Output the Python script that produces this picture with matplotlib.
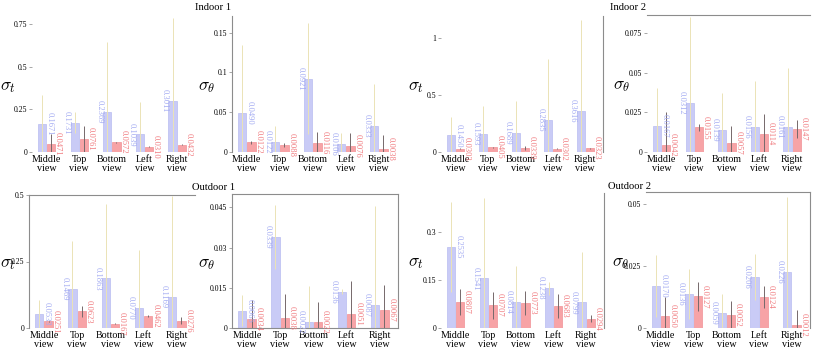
import numpy as np
import matplotlib
matplotlib.use("Agg")
import matplotlib.pyplot as plt
from matplotlib.ticker import FuncFormatter

plt.rcParams['font.family'] = ['Liberation Serif', 'DejaVu Serif']
plt.rcParams['mathtext.fontset'] = 'cm'

views = ['Middle\nview', 'Top\nview', 'Bottom\nview', 'Left\nview', 'Right\nview']

# Indoor 1
in1_t_blue = [0.1671, 0.1731, 0.2369, 0.1039, 0.3011]
in1_t_red = [0.0471, 0.0761, 0.0572, 0.0310, 0.0432]
in1_t_blue_err = [0.17, 0.06, 0.41, 0.19, 0.49]
in1_t_red_err = [0.058, 0.075, 0.004, 0.003, 0.004]
in1_th_blue = [0.0490, 0.0122, 0.0921, 0.0106, 0.0333]
in1_th_red = [0.0122, 0.0088, 0.0116, 0.0076, 0.0038]
in1_th_blue_err = [0.086, 0.021, 0.070, 0.013, 0.052]
in1_th_red_err = [0.002, 0.002, 0.013, 0.016, 0.017]

# Indoor 2
in2_t_blue = [0.1450, 0.1593, 0.1689, 0.2835, 0.3616]
in2_t_red = [0.0303, 0.0405, 0.0339, 0.0302, 0.0323]
in2_t_blue_err = [0.16, 0.24, 0.28, 0.53, 0.79]
in2_t_red_err = [0.003, 0.003, 0.02, 0.003, 0.005]
in2_th_blue = [0.0167, 0.0312, 0.0139, 0.0156, 0.0161]
in2_th_red = [0.0042, 0.0155, 0.0057, 0.0114, 0.0147]
in2_th_blue_err = [0.024, 0.054, 0.0235, 0.029, 0.037]
in2_th_red_err = [0.021, 0.002, 0.0107, 0.0123, 0.0058]

# Outdoor 1
out1_t_blue = [0.0533, 0.1469, 0.1863, 0.0770, 0.1169]
out1_t_red = [0.0251, 0.0623, 0.0167, 0.0462, 0.0276]
out1_t_blue_err = [0.052, 0.18, 0.28, 0.218, 0.38]
out1_t_red_err = [0.003, 0.02, 0.003, 0.003, 0.012]
out1_th_blue = [0.0065, 0.0339, 0.0022, 0.0136, 0.0087]
out1_th_red = [0.0034, 0.0038, 0.0022, 0.0051, 0.0067]
out1_th_blue_err = [0.0059, 0.012, 0.0133, 0.001, 0.037]
out1_th_red_err = [0.007, 0.0089, 0.0075, 0.0123, 0.0092]

# Outdoor 2
out2_t_blue = [0.2535, 0.1541, 0.0814, 0.1238, 0.0799]
out2_t_red = [0.0807, 0.0707, 0.0773, 0.0683, 0.0294]
out2_t_blue_err = [0.14, 0.25, 0.11, 0.02, 0.155]
out2_t_red_err = [0.04, 0.042, 0.037, 0.037, 0.01]
out2_th_blue = [0.0170, 0.0136, 0.0059, 0.0206, 0.0226]
out2_th_red = [0.0050, 0.0127, 0.0052, 0.0124, 0.0012]
out2_th_blue_err = [0.0125, 0.010, 0.008, 0.0093, 0.030]
out2_th_red_err = [0.0074, 0.0058, 0.0056, 0.0044, 0.006]

# panel: data, ylabel, ymax, ticks, visible spines, axes rect (px: left, top, right, bottom)
panels = [
    (in1_t_blue, in1_t_red, in1_t_blue_err, in1_t_red_err, r'$\sigma_t$', 0.8,
     [0, 0.25, 0.5, 0.75], [], (32, 16, 195, 152)),
    (in1_th_blue, in1_th_red, in1_th_blue_err, in1_th_red_err, r'$\sigma_\theta$', 0.171,
     [0, 0.05, 0.1, 0.15], ['left'], (232, 16, 397, 152)),
    (in2_t_blue, in2_t_red, in2_t_blue_err, in2_t_red_err, r'$\sigma_t$', 1.19,
     [0, 0.5, 1], ['right'], (441, 16, 603, 152)),
    (in2_th_blue, in2_th_red, in2_th_blue_err, in2_th_red_err, r'$\sigma_\theta$', 0.0865,
     [0, 0.025, 0.05, 0.075], ['top'], (647, 15, 810, 152)),
    (out1_t_blue, out1_t_red, out1_t_blue_err, out1_t_red_err, r'$\sigma_t$', 0.5,
     [0, 0.25, 0.5], ['left', 'top'], (29, 195, 195, 328)),
    (out1_th_blue, out1_th_red, out1_th_blue_err, out1_th_red_err, r'$\sigma_\theta$', 0.05,
     [0, 0.015, 0.03, 0.045], ['left', 'top', 'right', 'bottom'], (232, 194, 398, 328)),
    (out2_t_blue, out2_t_red, out2_t_blue_err, out2_t_red_err, r'$\sigma_t$', 0.42,
     [0, 0.15, 0.3], ['right'], (441, 193, 604, 328)),
    (out2_th_blue, out2_th_red, out2_th_blue_err, out2_th_red_err, r'$\sigma_\theta$', 0.0548,
     [0, 0.025, 0.05], ['top', 'right'], (646, 192, 810, 328)),
]

W, H = 822, 356
fig = plt.figure(figsize=(W / 100, H / 100), dpi=100)

x = np.arange(len(views))
for blue, red, berr, rerr, ylab, ymax, ticks, spines, (l, t, r, b) in panels:
    ax = fig.add_axes([l / W, 1 - b / H, (r - l) / W, (b - t) / H])
    ax.bar(x - 0.14, blue, 0.25, color='#c9cbf6', edgecolor='#b9bdf0', linewidth=0.5, zorder=2)
    ax.bar(x + 0.14, red, 0.25, color='#f7a3a6', edgecolor='#f09296', linewidth=0.5, zorder=2)
    ax.errorbar(x - 0.14, blue, yerr=berr, fmt='none', ecolor='#ebe3b6',
                elinewidth=0.7, capsize=0, zorder=3)
    ax.errorbar(x + 0.14, red, yerr=rerr, fmt='none', ecolor='#75696b',
                elinewidth=0.7, capsize=0, zorder=3)
    for i in range(len(views)):
        dx = 0.23 if i == 0 else -0.24
        ax.text(x[i] - 0.14 + dx, blue[i], f'{blue[i]:.4f}', rotation=-90,
                ha='center', va='center', fontsize=6.1, color='#a3abf2', zorder=4)
        ax.text(x[i] + 0.14 + 0.21, red[i], f'{red[i]:.4f}', rotation=-90,
                ha='center', va='center', fontsize=6.1, color='#f07a7e', zorder=4)
    ax.set_xlim(-0.45, 4.55)
    ax.set_ylim(0, ymax)
    ax.set_yticks(ticks)
    ax.yaxis.set_major_formatter(FuncFormatter(lambda v, p: '%g' % v))
    ax.set_xticks(x)
    ax.set_xticklabels(views, fontsize=7.2, linespacing=1.1)
    ax.tick_params(axis='x', length=0, pad=2)
    ax.tick_params(axis='y', labelsize=5.6, length=2, width=0.6, color='#999999', pad=1.5)
    for s in ['left', 'right', 'top', 'bottom']:
        ax.spines[s].set_visible(s in spines)
        ax.spines[s].set_color('#8c8c8c')
        ax.spines[s].set_linewidth(0.8)
    off = max(-25, 8 - l)
    ax.text(off / (r - l), 0.48, ylab, transform=ax.transAxes,
            ha='center', va='center', fontsize=12.5)

fig.text(213 / W, 1 - 8 / H, 'Indoor 1', ha='center', va='center', fontsize=7.6)
fig.text(628 / W, 1 - 8 / H, 'Indoor 2', ha='center', va='center', fontsize=7.6)
fig.text(214 / W, 1 - 187 / H, 'Outdoor 1', ha='center', va='center', fontsize=7.6)
fig.text(629 / W, 1 - 186 / H, 'Outdoor 2', ha='center', va='center', fontsize=7.6)

fig.savefig('out.png', dpi=100)
